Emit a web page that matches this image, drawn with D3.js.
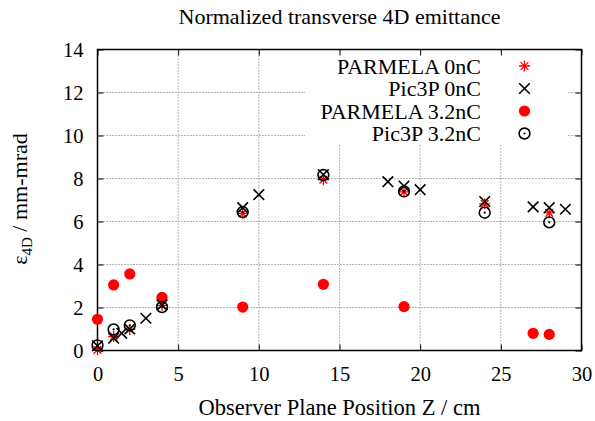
<!DOCTYPE html>
<html>
<head>
<meta charset="utf-8">
<script src="https://cdn.jsdelivr.net/npm/d3@7"></script>
</head>
<body style="margin:0;background:#fff">
<svg id="chart" width="595" height="421" style="display:block"></svg>
<script>
// ---- data ----
const title = "Normalized transverse 4D emittance";
const xLabel = "Observer Plane Position Z / cm";
const xTicks = [0, 5, 10, 15, 20, 25, 30];
const yTicks = [0, 2, 4, 6, 8, 10, 12, 14];

const parmela0nC_z = [0, 1, 2, 4, 9, 14, 19, 24, 28];
const parmela0nC_e = [0.03, 0.65, 0.98, 2.1, 6.38, 7.95, 7.38, 6.82, 6.4];

const pic3p0nC_z = [0, 1, 1.5, 2, 3, 4, 9, 10, 14, 18, 19, 20, 24, 27, 28, 29];
const pic3p0nC_e = [0.22, 0.57, 0.8, 1.0, 1.5, 2.12, 6.64, 7.25, 8.18, 7.85, 7.65, 7.48, 6.93, 6.68, 6.64, 6.57];

const parmela32_z = [0, 1, 2, 4, 9, 14, 19, 27, 28];
const parmela32_e = [1.45, 3.05, 3.56, 2.47, 2.02, 3.08, 2.04, 0.8, 0.75];

const pic3p32_z = [0, 1, 2, 4, 9, 14, 19, 24, 28];
const pic3p32_e = [0.24, 0.98, 1.17, 2.02, 6.44, 8.16, 7.4, 6.41, 5.96];

const legendNames = ["PARMELA 0nC", "Pic3P 0nC", "PARMELA 3.2nC", "Pic3P 3.2nC"];

// ---- layout ----
const FONT = "Liberation Serif";
const svg = d3.select("#chart");
const L = 97.5, R = 581.5, T = 49.5, B = 350.5;
const x = d3.scaleLinear().domain([0, 30]).range([L, R]);
const y = d3.scaleLinear().domain([0, 14]).range([B, T]);
const red = "#ff0000";

// grid
const grid = svg.append("g");
grid.selectAll("line.gx").data(xTicks.filter(d => d > 0 && d < 30)).enter().append("line")
  .attr("x1", d => x(d)).attr("x2", d => x(d)).attr("y1", T).attr("y2", B)
  .attr("stroke", "#444").attr("stroke-width", 0.8).attr("stroke-dasharray", "1,2");
grid.selectAll("line.gy").data(yTicks.filter(d => d > 0 && d < 14)).enter().append("line")
  .attr("x1", L).attr("x2", R).attr("y1", d => y(d)).attr("y2", d => y(d))
  .attr("stroke", "#444").attr("stroke-width", 0.8).attr("stroke-dasharray", "1,2");

// legend background (covers grid)
svg.append("rect").attr("x", 305).attr("y", T + 1).attr("width", 263).attr("height", 94)
  .attr("fill", "#fff");

// axes
const axB = svg.append("g").attr("transform", `translate(0,${B})`)
  .call(d3.axisBottom(x).tickValues(xTicks).tickSize(-6).tickPadding(16).tickFormat(d3.format("d")));
const axT = svg.append("g").attr("transform", `translate(0,${T})`)
  .call(d3.axisTop(x).tickValues(xTicks).tickSize(-6).tickFormat(""));
const axL = svg.append("g").attr("transform", `translate(${L},0)`)
  .call(d3.axisLeft(y).tickValues(yTicks).tickSize(-6).tickPadding(14).tickFormat(d3.format("d")));
const axR = svg.append("g").attr("transform", `translate(${R},0)`)
  .call(d3.axisRight(y).tickValues(yTicks).tickSize(-6).tickFormat(""));
[axB, axT, axL, axR].forEach(a => {
  a.attr("font-family", null);
  a.select(".domain").remove();
  a.selectAll(".tick line").attr("stroke", "#000").attr("stroke-width", 1);
  a.selectAll("text").style("font-family", FONT).attr("font-size", 20.5).attr("fill", "#000");
});
axL.selectAll("text").attr("dy", "0.35em");

svg.append("rect").attr("x", L).attr("y", T).attr("width", R - L).attr("height", B - T)
  .attr("fill", "none").attr("stroke", "#000").attr("stroke-width", 1.5);

// ---- marker drawers ----
function asterisk(g, cx, cy) {
  const s = 5.5, d = s * 0.7071;
  const p = `M${cx - s},${cy}L${cx + s},${cy}M${cx},${cy - s}L${cx},${cy + s}` +
            `M${cx - d},${cy - d}L${cx + d},${cy + d}M${cx - d},${cy + d}L${cx + d},${cy - d}`;
  g.append("path").attr("d", p).attr("stroke", red).attr("stroke-width", 1.3).attr("fill", "none");
}
function cross(g, cx, cy) {
  const s = 5.3;
  g.append("path").attr("d", `M${cx - s},${cy - s}L${cx + s},${cy + s}M${cx - s},${cy + s}L${cx + s},${cy - s}`)
    .attr("stroke", "#000").attr("stroke-width", 1.6).attr("fill", "none");
}
function dot(g, cx, cy) {
  g.append("circle").attr("cx", cx).attr("cy", cy).attr("r", 5.6).attr("fill", red);
}
function ring(g, cx, cy) {
  g.append("circle").attr("cx", cx).attr("cy", cy).attr("r", 5.4).attr("fill", "none")
    .attr("stroke", "#000").attr("stroke-width", 1.6);
  g.append("circle").attr("cx", cx).attr("cy", cy).attr("r", 1.1).attr("fill", "#000");
}

const marks = svg.append("g");
const series = [
  { z: parmela32_z, e: parmela32_e, draw: dot },
  { z: parmela0nC_z, e: parmela0nC_e, draw: asterisk },
  { z: pic3p0nC_z, e: pic3p0nC_e, draw: cross },
  { z: pic3p32_z, e: pic3p32_e, draw: ring }
];
series.forEach(s => s.z.forEach((zv, i) => s.draw(marks, x(zv), y(s.e[i]))));

// legend
const legDraw = [asterisk, cross, dot, ring];
const leg = svg.append("g");
legendNames.forEach((name, i) => {
  const cy = 66 + i * 22.5;
  leg.append("text").attr("x", 481).attr("y", cy + 7.5)
    .style("font-family", FONT)
    .attr("text-anchor", "end").attr("font-size", 22).attr("fill", "#000").text(name);
  legDraw[i](leg, 524.5, cy);
});

// title & labels
svg.append("text").attr("x", (L + R) / 2).attr("y", 24).attr("text-anchor", "middle")
  .style("font-family", FONT)
  .attr("font-size", 22).attr("fill", "#000").text(title);
svg.append("text").attr("x", (L + R) / 2).attr("y", 414.5).attr("text-anchor", "middle")
  .style("font-family", FONT)
  .attr("font-size", 22.5).attr("fill", "#000").text(xLabel);

const yl = svg.append("text").attr("transform", "translate(27,199) rotate(-90)")
  .style("font-family", FONT)
  .attr("text-anchor", "middle").attr("font-size", 22).attr("fill", "#000");
yl.append("tspan").text("ε");
yl.append("tspan").attr("font-size", 15).attr("dy", 5).text("4D");
yl.append("tspan").attr("dy", -5).text(" / mm-mrad");
</script>
</body>
</html>
